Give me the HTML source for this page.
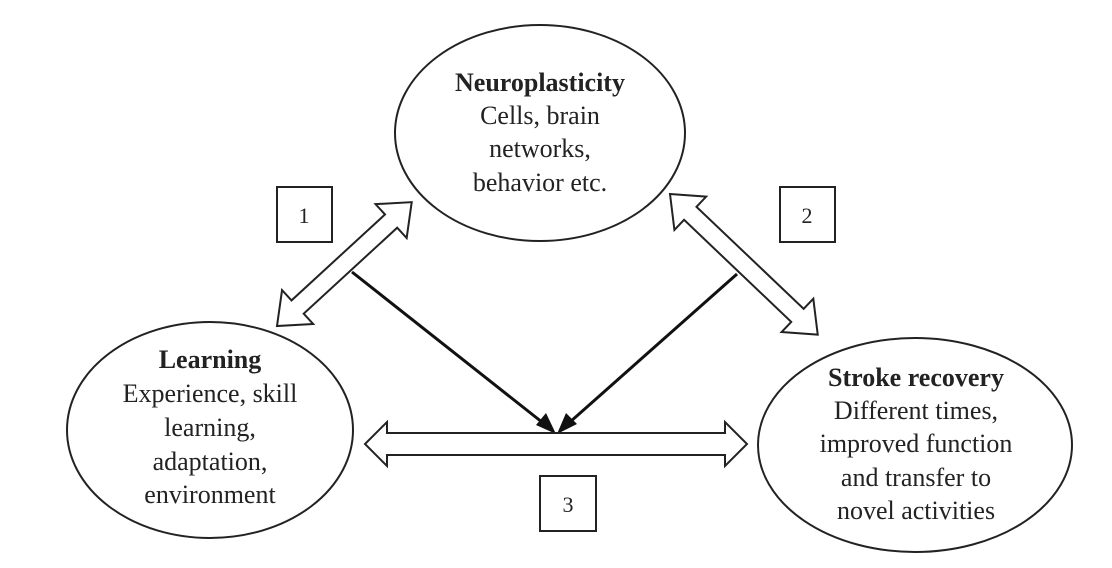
<!DOCTYPE html>
<html><head><meta charset="utf-8"><style>
html,body{margin:0;padding:0;background:#fff;}
svg{display:block;}
text{font-family:"Liberation Serif",serif;font-size:26px;fill:#222;text-anchor:middle;}
.b{font-weight:bold;}
</style></head><body>
<svg width="1112" height="568" viewBox="0 0 1112 568" xmlns="http://www.w3.org/2000/svg">
<g fill="#fff" stroke="#222" stroke-width="2">
<ellipse cx="540" cy="133" rx="145" ry="108"/>
<ellipse cx="210" cy="430" rx="143" ry="108"/>
<ellipse cx="915" cy="445" rx="157" ry="107"/>
<rect x="277" y="187" width="55" height="55"/>
<rect x="780" y="187" width="55" height="55"/>
<rect x="540" y="476" width="56" height="55"/>
</g>
<g stroke="#111" stroke-width="3" fill="none">
<line x1="352" y1="272" x2="552" y2="430"/>
<line x1="737" y1="274" x2="561" y2="430"/>
</g>
<polygon points="556,434 536,425 546,413" fill="#111"/>
<polygon points="557,434 566,413 577,424" fill="#111"/>
<g fill="#fff" stroke="#222" stroke-width="2" stroke-linejoin="miter">
<g transform="translate(277,326) rotate(-42.6)">
<polygon points="0,0 28,-23 28,-9 155,-9 155,-23 183,0 155,23 155,9 28,9 28,23"/>
</g>
<g transform="translate(670,194) rotate(43.6)">
<polygon points="0,0 28,-23 28,-9 176,-9 176,-23 204,0 176,23 176,9 28,9 28,23"/>
</g>
<g transform="translate(365,444)">
<polygon points="0,0 22,-22 22,-11 360,-11 360,-22 382,0 360,22 360,11 22,11 22,22"/>
</g>
</g>
<text x="540" y="91" class="b">Neuroplasticity</text>
<text x="540" y="124">Cells, brain</text>
<text x="540" y="157">networks,</text>
<text x="540" y="191">behavior etc.</text>
<text x="210" y="368" class="b">Learning</text>
<text x="210" y="402">Experience, skill</text>
<text x="210" y="436">learning,</text>
<text x="210" y="470">adaptation,</text>
<text x="210" y="503">environment</text>
<text x="916" y="386" class="b">Stroke recovery</text>
<text x="916" y="419">Different times,</text>
<text x="916" y="452">improved function</text>
<text x="916" y="486">and transfer to</text>
<text x="916" y="519">novel activities</text>
<text x="304" y="223" style="font-size:22px">1</text>
<text x="807" y="223" style="font-size:22px">2</text>
<text x="568" y="512" style="font-size:22px">3</text>
</svg>
</body></html>
